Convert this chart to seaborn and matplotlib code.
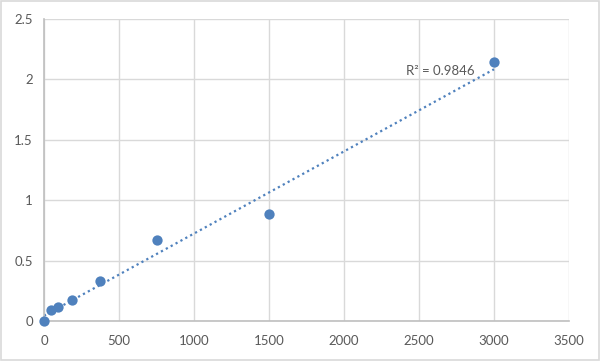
import numpy as np
import pandas as pd
import matplotlib
matplotlib.use("Agg")
import matplotlib.pyplot as plt
import seaborn as sns

# standard curve points
conc = [0, 46.875, 93.75, 187.5, 375, 750, 1500, 3000]
od = [0.0, 0.09, 0.115, 0.17, 0.33, 0.67, 0.885, 2.14]
r2_label = "R² = 0.9846"

x_ticks = [0, 500, 1000, 1500, 2000, 2500, 3000, 3500]
y_ticks = [0, 0.5, 1, 1.5, 2, 2.5]
y_tick_labels = ["0", "0.5", "1", "1.5", "2", "2.5"]

df = pd.DataFrame({"conc": conc, "od": od})

sns.set_theme(style="white")
plt.rcParams["font.family"] = ["Lato", "DejaVu Sans"]

point_color = "#4F81BD"
grid_color = "#D9D9D9"
text_color = "#595959"

fig = plt.figure(figsize=(6.0, 3.61), dpi=100)
ax = fig.add_axes([44 / 600, 1 - 321 / 361, (569 - 44) / 600, (321 - 19) / 361])

# linear trendline through the points
slope, intercept = np.polyfit(df["conc"], df["od"], 1)
xs = np.array([0, max(conc)])
ax.plot(xs, slope * xs + intercept, linestyle=(0, (1, 1.5)), color=point_color,
        linewidth=1.6, zorder=2)

sns.scatterplot(data=df, x="conc", y="od", color=point_color, s=55,
                edgecolor=point_color, linewidth=0, ax=ax, zorder=3, clip_on=False)

ax.set_xlim(0, 3500)
ax.set_ylim(0, 2.5)
ax.set_xticks(x_ticks)
ax.set_yticks(y_ticks)
ax.set_yticklabels(y_tick_labels)
ax.set_xlabel("")
ax.set_ylabel("")
ax.grid(True, color=grid_color, linewidth=1)
ax.set_axisbelow(True)
for side in ["top", "right"]:
    ax.spines[side].set_visible(False)
for side in ["left", "bottom"]:
    ax.spines[side].set_color("#BFBFBF")
    ax.spines[side].set_linewidth(1.2)
ax.tick_params(axis="both", length=0, labelsize=9.5, colors=text_color)
ax.tick_params(axis="x", pad=10)
ax.tick_params(axis="y", pad=8)

ax.text(2413, 2.07, r2_label, fontsize=9.5, color=text_color, va="center", ha="left")

# outer chart border
fig.patches.append(plt.Rectangle((0.002, 0.003), 0.996, 0.994, transform=fig.transFigure,
                                 fill=False, edgecolor="#D9D9D9", linewidth=1.2))

fig.savefig("out.png", dpi=100)
